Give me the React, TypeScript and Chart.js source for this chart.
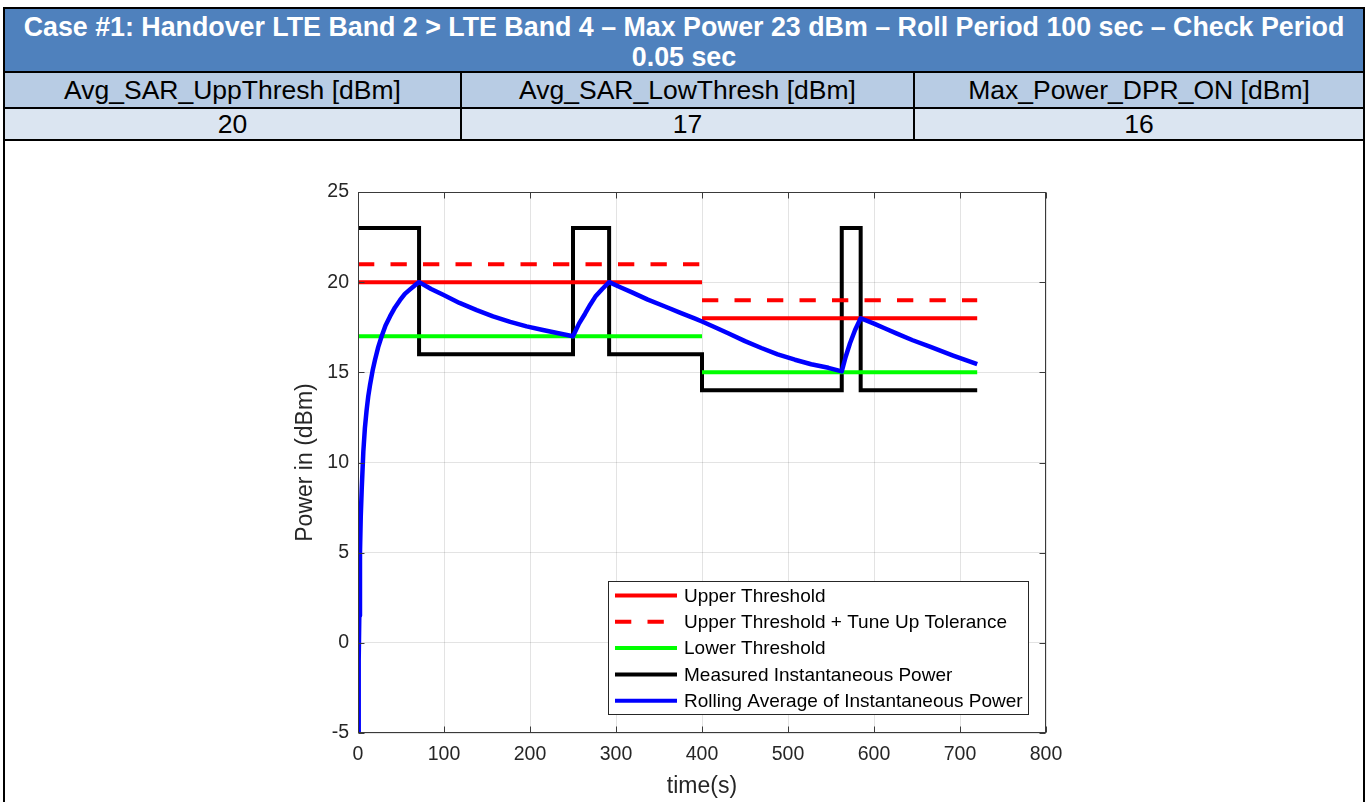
import React, { useEffect, useRef } from "react";
import { Chart, registerables } from "chart.js";

Chart.register(...registerables);

// ---------- table content ----------
const tableTitle =
  "Case #1: Handover LTE Band 2 > LTE Band 4 \u2013 Max Power 23 dBm \u2013 Roll Period 100 sec \u2013 Check Period 0.05 sec";
const tableHeaders = ["Avg_SAR_UppThresh [dBm]", "Avg_SAR_LowThresh [dBm]", "Max_Power_DPR_ON [dBm]"];
const tableValues = ["20", "17", "16"];

// ---------- chart data ----------
const thresholdTimes = [0, 400, 720];
const upperThreshold = [20, 18];
const upperTuneUp = [21, 19];
const lowerThreshold = [17, 15];

const instTimes = [0, 71, 250, 292, 400, 562.5, 584.5, 720];
const instPower = [23, 16, 23, 16, 14, 23, 14, 14];

const avgTimes = [
  0.3, 0.8, 1.5, 2.3, 3.2, 4.3, 6.2, 8, 10, 12, 14, 17, 19.8, 23.5, 27.5, 32, 37.2, 43, 48.8, 54.5, 60.5, 66, 71,
  85, 99, 118, 138, 157, 177, 196, 215, 233, 250,
  257, 264, 270, 276, 284, 292,
  305, 318, 337, 357, 375, 392, 400,
  415, 431, 450, 469, 488, 508, 527, 547, 562.5,
  567, 572, 578, 584.5,
  600, 613, 626, 645, 665, 692, 720,
];
const avgPower = [
  -5, -1, 1.5, 5, 7, 8.5, 10.6, 11.9, 12.9, 13.7, 14.3, 15.1, 15.7, 16.4, 17.0, 17.6, 18.1, 18.6, 19.0, 19.35, 19.6, 19.82, 20,
  19.62, 19.3, 18.85, 18.45, 18.1, 17.8, 17.55, 17.35, 17.17, 17.0,
  17.7, 18.25, 18.75, 19.2, 19.62, 20,
  19.72, 19.45, 19.03, 18.65, 18.3, 17.98, 17.82,
  17.5, 17.15, 16.73, 16.35, 16.0, 15.7, 15.45, 15.25, 15.05,
  15.85, 16.6, 17.35, 18,
  17.7, 17.43, 17.16, 16.78, 16.42, 15.93, 15.45,
];

const xTicks = [0, 100, 200, 300, 400, 500, 600, 700, 800];
const yTicks = [-5, 0, 5, 10, 15, 20, 25];

const xLabel = "time(s)";
const yLabel = "Power in (dBm)";

const FONT = "'Liberation Sans', Arial, Helvetica, sans-serif";

function segmented(times: number[], levels: number[]) {
  const pts: { x: number; y: number | null }[] = [];
  for (let i = 0; i < levels.length; i++) {
    if (i > 0) pts.push({ x: times[i], y: null });
    pts.push({ x: times[i], y: levels[i] });
    pts.push({ x: times[i + 1], y: levels[i] });
  }
  return pts;
}

const framePlugin = {
  id: "frame",
  afterDatasetsDraw(chart: any) {
    const { ctx, chartArea: a, scales } = chart;
    const xs = scales.x;
    const ys = scales.y;
    ctx.save();
    ctx.strokeStyle = "#3a3a3a";
    ctx.lineWidth = 1;
    const L = Math.round(a.left) + 0.5;
    const T = Math.round(a.top) + 0.5;
    const R = Math.round(a.right) - 0.5;
    const B = Math.round(a.bottom) - 0.5;
    ctx.strokeRect(L, T, R - L, B - T);
    const tl = 6;
    ctx.beginPath();
    xTicks.forEach((v) => {
      const px = Math.round(xs.getPixelForValue(v)) + 0.5;
      ctx.moveTo(px, B);
      ctx.lineTo(px, B - tl);
      ctx.moveTo(px, T);
      ctx.lineTo(px, T + tl);
    });
    yTicks.forEach((v) => {
      const py = Math.round(ys.getPixelForValue(v)) + 0.5;
      ctx.moveTo(L, py);
      ctx.lineTo(L + tl, py);
      ctx.moveTo(R, py);
      ctx.lineTo(R - tl, py);
    });
    ctx.stroke();

    // legend box
    const bx = 608.5, by = 581.5, bw = 420, bh = 133;
    ctx.fillStyle = "#ffffff";
    ctx.fillRect(bx, by, bw, bh);
    ctx.strokeStyle = "#262626";
    ctx.lineWidth = 1;
    ctx.strokeRect(bx, by, bw, bh);
    const ds = chart.data.datasets;
    ds.forEach((d: any, i: number) => {
      const cy = 595.5 + i * 26.3;
      ctx.beginPath();
      ctx.strokeStyle = d.borderColor;
      ctx.lineWidth = 4;
      ctx.setLineDash(d.borderDash || []);
      ctx.moveTo(615, cy);
      ctx.lineTo(677, cy);
      ctx.stroke();
      ctx.setLineDash([]);
      ctx.fillStyle = "#000000";
      ctx.font = `19px ${FONT}`;
      ctx.textBaseline = "middle";
      ctx.textAlign = "left";
      ctx.fillText(d.label, 684, cy + 1);
    });
    ctx.restore();
  },
};

function ChartCanvas() {
  const ref = useRef<HTMLCanvasElement | null>(null);
  useEffect(() => {
    if (!ref.current) return;
    const chart = new Chart(ref.current, {
      type: "line",
      data: {
        datasets: [
          {
            label: "Upper Threshold",
            data: segmented(thresholdTimes, upperThreshold) as any,
            borderColor: "#ff0000",
            borderWidth: 4,
            pointRadius: 0,
            spanGaps: false,
            order: 1,
          },
          {
            label: "Upper Threshold + Tune Up Tolerance",
            data: segmented(thresholdTimes, upperTuneUp) as any,
            borderColor: "#ff0000",
            borderWidth: 4,
            borderDash: [16.3, 16.2],
            pointRadius: 0,
            spanGaps: false,
            order: 2,
          },
          {
            label: "Lower Threshold",
            data: segmented(thresholdTimes, lowerThreshold) as any,
            borderColor: "#00ff00",
            borderWidth: 4,
            pointRadius: 0,
            spanGaps: false,
            order: 3,
          },
          {
            label: "Measured Instantaneous Power",
            data: instTimes.map((t, i) => ({ x: t, y: instPower[i] })),
            borderColor: "#000000",
            borderWidth: 4,
            pointRadius: 0,
            stepped: true,
            order: 4,
          },
          {
            label: "Rolling Average of Instantaneous Power",
            data: avgTimes.map((t, i) => ({ x: t, y: avgPower[i] })),
            borderColor: "#0000ff",
            borderWidth: 4.5,
            pointRadius: 0,
            tension: 0,
            borderJoinStyle: "round",
            order: 0,
          },
        ] as any,
      },
      options: {
        animation: false,
        responsive: false,
        devicePixelRatio: 1,
        layout: { padding: { left: 288, right: 322, top: 192, bottom: 0 } },
        plugins: { legend: { display: false }, tooltip: { enabled: false } },
        scales: {
          x: {
            type: "linear",
            min: 0,
            max: 800,
            afterBuildTicks: (s: any) => {
              s.ticks = xTicks.map((v) => ({ value: v }));
            },
            afterFit: (s: any) => {
              s.height = 69;
            },
            grid: { color: "rgba(38,38,38,0.13)", drawTicks: false, lineWidth: 1 },
            border: { display: false },
            ticks: { color: "#262626", font: { family: FONT, size: 19.5 }, padding: 10, maxRotation: 0 },
            title: {
              display: true,
              text: xLabel,
              color: "#262626",
              font: { family: FONT, size: 23 },
              padding: { top: 0, bottom: 2 },
            },
          },
          y: {
            type: "linear",
            min: -5,
            max: 25,
            afterBuildTicks: (s: any) => {
              s.ticks = yTicks.map((v) => ({ value: v }));
            },
            afterFit: (s: any) => {
              s.width = 70;
            },
            grid: { color: "rgba(38,38,38,0.13)", drawTicks: false, lineWidth: 1 },
            border: { display: false },
            ticks: { color: "#262626", font: { family: FONT, size: 19.5 }, padding: 9 },
            title: {
              display: true,
              text: yLabel,
              color: "#262626",
              font: { family: FONT, size: 23 },
              padding: { top: 4, bottom: 0 },
            },
          },
        },
      },
      plugins: [framePlugin],
    });
    return () => chart.destroy();
  }, []);
  return (
    <canvas
      ref={ref}
      width={1368}
      height={802}
      style={{ position: "absolute", left: 0, top: 0, width: 1368, height: 802, pointerEvents: "none" }}
    />
  );
}

export default function App() {
  const colX = [4, 461, 914, 1364];
  const line = (left: number, top: number, width: number, height: number, key: string) => (
    <div key={key} style={{ position: "absolute", left, top, width, height, background: "#000" }} />
  );
  return (
    <div
      style={{
        position: "absolute",
        left: 0,
        top: 0,
        width: 1368,
        height: 802,
        overflow: "hidden",
        background: "#ffffff",
        fontFamily: FONT,
      }}
    >
      <div
        style={{
          position: "absolute",
          left: 4,
          top: 8,
          width: 1360,
          height: 64,
          background: "#4f81bd",
          color: "#ffffff",
          fontWeight: "bold",
          fontSize: 26.8,
          lineHeight: "30px",
          textAlign: "center",
          paddingTop: 4,
          boxSizing: "border-box",
        }}
      >
        {tableTitle}
      </div>
      {tableHeaders.map((h, i) => (
        <div
          key={"h" + i}
          style={{
            position: "absolute",
            left: colX[i],
            top: 72,
            width: colX[i + 1] - colX[i],
            height: 36,
            background: "#b8cce4",
            fontSize: 26.5,
            lineHeight: "36px",
            textAlign: "center",
            color: "#000",
          }}
        >
          {h}
        </div>
      ))}
      {tableValues.map((v, i) => (
        <div
          key={"v" + i}
          style={{
            position: "absolute",
            left: colX[i],
            top: 108,
            width: colX[i + 1] - colX[i],
            height: 32,
            background: "#dbe5f1",
            fontSize: 26.5,
            lineHeight: "32px",
            textAlign: "center",
            color: "#000",
          }}
        >
          {v}
        </div>
      ))}
      {line(3, 7, 1362, 2, "t")}
      {line(3, 71, 1362, 2, "r1")}
      {line(3, 107, 1362, 2, "r2")}
      {line(3, 139, 1362, 2, "r3")}
      {line(3, 7, 2, 800, "l")}
      {line(1363, 7, 2, 800, "r")}
      {line(460, 71, 2, 70, "c1")}
      {line(913, 71, 2, 70, "c2")}
      <ChartCanvas />
    </div>
  );
}
